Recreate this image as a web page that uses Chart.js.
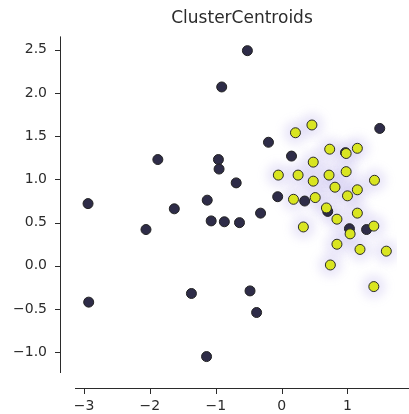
<!DOCTYPE html>
<html>
<head>
<meta charset="utf-8">
<script src="https://cdn.jsdelivr.net/npm/chart.js@4"></script>
<style>
  body { margin: 0; background: #fff; }
  #wrap { width: 409px; height: 414px; }
</style>
</head>
<body>
<div id="wrap"><canvas id="chart"></canvas></div>
<script>
// clase 0 (oscuros)
const darkX = [-0.52, -0.91, -1.88, -0.96, -0.95, -0.69, -0.20, -2.94, -1.63, -1.13, -2.06, -1.07, -0.87, -0.64, -0.32, -0.06, 0.15, 0.35, 0.70, 1.03, 1.29, 1.49, 0.97, -2.93, -1.37, -0.48, -0.38, -1.14];
const darkY = [2.49, 2.07, 1.23, 1.23, 1.12, 0.96, 1.43, 0.72, 0.66, 0.76, 0.42, 0.52, 0.51, 0.50, 0.61, 0.80, 1.27, 0.75, 0.63, 0.43, 0.42, 1.59, 1.31, -0.42, -0.32, -0.29, -0.54, -1.05];
// clase 1 (amarillos)
const yellowX = [0.46, 0.21, 0.73, 0.98, 1.15, 0.48, -0.05, 0.25, 0.72, 0.98, 0.48, 1.41, 0.81, 1.15, 1.00, 0.18, 0.51, 0.68, 1.15, 0.84, 0.33, 1.40, 1.04, 0.84, 1.19, 1.59, 0.74, 1.40];
const yellowY = [1.63, 1.54, 1.35, 1.30, 1.36, 1.20, 1.05, 1.05, 1.05, 1.09, 0.98, 0.99, 0.91, 0.88, 0.81, 0.77, 0.79, 0.67, 0.61, 0.54, 0.45, 0.46, 0.37, 0.25, 0.19, 0.17, 0.01, -0.24];

const xTicks = [-3, -2, -1, 0, 1];
const yTicks = [-1.0, -0.5, 0.0, 0.5, 1.0, 1.5, 2.0, 2.5];

const toPoints = (xs, ys) => xs.map((x, i) => ({ x: x, y: ys[i] }));
const fmt = (v, d) => (v < 0 ? '\u2212' : '') + Math.abs(v).toFixed(d);

const INK = '#2b2b2b';
const FONT = "'DejaVu Sans', sans-serif";

// halo difuso detras del cluster
const blurPlugin = {
  id: 'blurHalo',
  beforeDatasetDraw(chart, args) {
    if (args.index === 2) {
      chart.ctx.save();
      chart.ctx.filter = 'blur(5px)';
    }
  },
  afterDatasetDraw(chart, args) {
    if (args.index === 2) chart.ctx.restore();
  }
};

// ejes separados estilo seaborn + titulo
const spinesPlugin = {
  id: 'spines',
  afterDraw(chart) {
    const ctx = chart.ctx;
    const area = chart.chartArea;
    const xs = chart.scales.x, ys = chart.scales.y;
    ctx.save();
    ctx.strokeStyle = INK;
    ctx.lineWidth = 1;
    ctx.beginPath();
    ctx.moveTo(60.5, area.top);
    ctx.lineTo(60.5, area.bottom);
    ctx.moveTo(area.left, 388.5);
    ctx.lineTo(409, 388.5);
    yTicks.forEach(v => {
      const py = Math.round(ys.getPixelForValue(v)) + 0.5;
      ctx.moveTo(55, py);
      ctx.lineTo(60.5, py);
    });
    xTicks.forEach(v => {
      const px = Math.round(xs.getPixelForValue(v)) + 0.5;
      ctx.moveTo(px, 388.5);
      ctx.lineTo(px, 394);
    });
    ctx.stroke();
    ctx.fillStyle = INK;
    ctx.font = '17px ' + FONT;
    ctx.textAlign = 'center';
    ctx.textBaseline = 'middle';
    ctx.fillText('ClusterCentroids', (area.left + 409) / 2, 19);
    ctx.restore();
  }
};

const ctx = document.getElementById('chart').getContext('2d');
const chart = new Chart(ctx, {
  type: 'scatter',
  data: {
    datasets: [{
      label: 'amarillo',
      data: toPoints(yellowX, yellowY),
      backgroundColor: '#d9e521',
      borderColor: '#2a2a2a',
      borderWidth: 1,
      pointRadius: 5,
      order: 1
    }, {
      label: 'oscuro',
      data: toPoints(darkX, darkY),
      backgroundColor: '#2e2c48',
      borderColor: '#222222',
      borderWidth: 1,
      pointRadius: 5,
      order: 2
    }, {
      label: 'halo',
      data: toPoints(yellowX, yellowY),
      backgroundColor: 'rgba(130, 110, 215, 0.16)',
      borderWidth: 0,
      pointRadius: 12,
      order: 3
    }]
  },
  options: {
    responsive: true,
    maintainAspectRatio: false,
    animation: false,
    events: [],
    layout: { padding: { top: 33, right: 1, left: 0, bottom: 0 } },
    plugins: {
      legend: { display: false },
      tooltip: { enabled: false },
      title: { display: false }
    },
    scales: {
      x: {
        type: 'linear',
        min: -3.138,
        max: 1.752,
        grid: { display: false, drawTicks: false },
        border: { display: false },
        afterBuildTicks: s => { s.ticks = xTicks.map(v => ({ value: v })); },
        afterFit: s => { s.height = 41; },
        ticks: {
          color: INK,
          font: { family: FONT, size: 14 },
          padding: 25,
          maxRotation: 0,
          callback: v => fmt(v, 0)
        }
      },
      y: {
        type: 'linear',
        min: -1.24,
        max: 2.655,
        grid: { display: false, drawTicks: false },
        border: { display: false },
        afterBuildTicks: s => { s.ticks = yTicks.map(v => ({ value: v })); },
        afterFit: s => { s.width = 75; },
        ticks: {
          color: INK,
          font: { family: FONT, size: 14 },
          padding: 28,
          callback: v => fmt(v, 1)
        }
      }
    }
  },
  plugins: [blurPlugin, spinesPlugin]
});
</script>
</body>
</html>
